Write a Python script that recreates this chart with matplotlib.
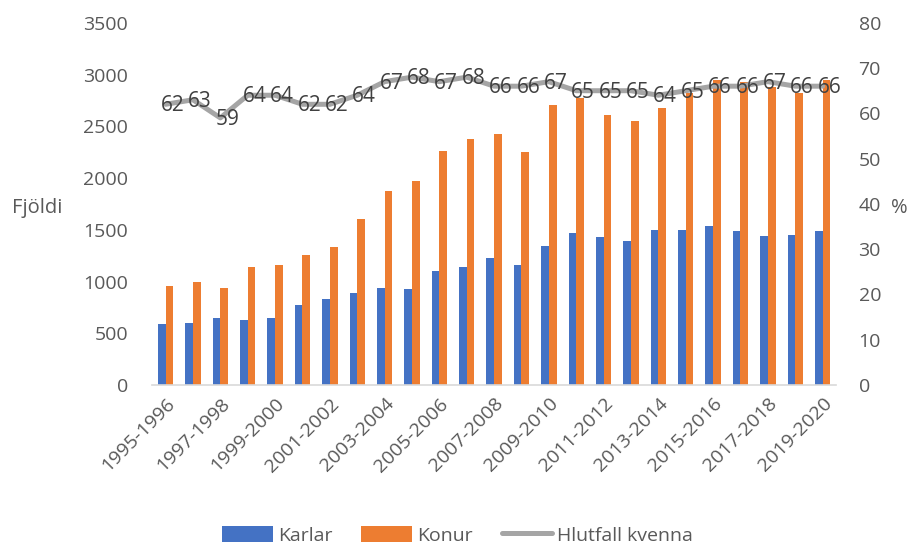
import matplotlib.pyplot as plt
import numpy as np

plt.rcParams['font.family'] = ['Open Sans', 'DejaVu Sans']

years = ['1995-1996', '1996-1997', '1997-1998', '1998-1999', '1999-2000',
         '2000-2001', '2001-2002', '2002-2003', '2003-2004', '2004-2005',
         '2005-2006', '2006-2007', '2007-2008', '2008-2009', '2009-2010',
         '2010-2011', '2011-2012', '2012-2013', '2013-2014', '2014-2015',
         '2015-2016', '2016-2017', '2017-2018', '2018-2019', '2019-2020']
karlar = [590, 600, 650, 630, 645, 770, 830, 885, 935, 930, 1100, 1140, 1230,
          1160, 1340, 1470, 1430, 1390, 1500, 1500, 1540, 1490, 1440, 1450, 1490]
konur = [960, 1000, 940, 1140, 1160, 1260, 1330, 1600, 1870, 1975, 2260, 2380,
         2430, 2250, 2710, 2770, 2610, 2550, 2680, 2820, 2950, 2930, 2880, 2820, 2950]
hlutfall = [62, 63, 59, 64, 64, 62, 62, 64, 67, 68, 67, 68, 66, 66, 67, 65, 65,
            65, 64, 65, 66, 66, 67, 66, 66]

txt = '#595959'
x = np.arange(len(years))
w = 0.28

fig = plt.figure(figsize=(9.15, 5.43), dpi=100)
ax = fig.add_axes([0.166, 0.291, 0.748, 0.667])
ax2 = ax.twinx()

b1 = ax.bar(x - w / 2, karlar, w, color='#4472C4', label='Karlar')
b2 = ax.bar(x + w / 2, konur, w, color='#ED7D31', label='Konur')
l1, = ax2.plot(x, hlutfall, color='#A5A5A5', lw=3.6, label='Hlutfall kvenna',
               solid_capstyle='round')
for xi, v in zip(x, hlutfall):
    ax2.annotate(str(v), (xi, v), xytext=(5, -1), textcoords='offset points',
                 ha='center', va='center', fontsize=15, color='#404040')

ax.set_xlim(-0.5, len(years) - 0.5)
ax.set_ylim(0, 3500)
ax.set_yticks(np.arange(0, 3501, 500))
ax2.set_ylim(0, 80)
ax2.set_yticks(np.arange(0, 81, 10))

ax.set_xticks(x[::2])
ax.set_xticklabels(years[::2], rotation=45, ha='right', rotation_mode='anchor')

for a in (ax, ax2):
    for s in a.spines.values():
        s.set_visible(False)
    a.tick_params(length=0, colors=txt, labelsize=14)
ax.spines['bottom'].set_visible(True)
ax.spines['bottom'].set_color('#D9D9D9')
ax.spines['bottom'].set_linewidth(1.2)
ax.tick_params(axis='y', pad=17)
ax.tick_params(axis='x', pad=7)
ax2.tick_params(axis='y', pad=16)

ax.set_ylabel('Fjöldi', rotation=0, fontsize=14.5, color=txt, ha='left', va='center')
ax.yaxis.set_label_coords(-0.205, 0.49)
ax2.set_ylabel('%', rotation=0, fontsize=14.5, color=txt, ha='left', va='center')
ax2.yaxis.set_label_coords(1.08, 0.49)

fig.legend(handles=[b1, b2, l1], loc='lower center', ncol=3, frameon=False,
           fontsize=14, labelcolor=txt, bbox_to_anchor=(0.5, -0.035),
           handlelength=2.6, handleheight=0.9, columnspacing=1.5,
           handletextpad=0.25)

plt.savefig('out.png', dpi=100)
